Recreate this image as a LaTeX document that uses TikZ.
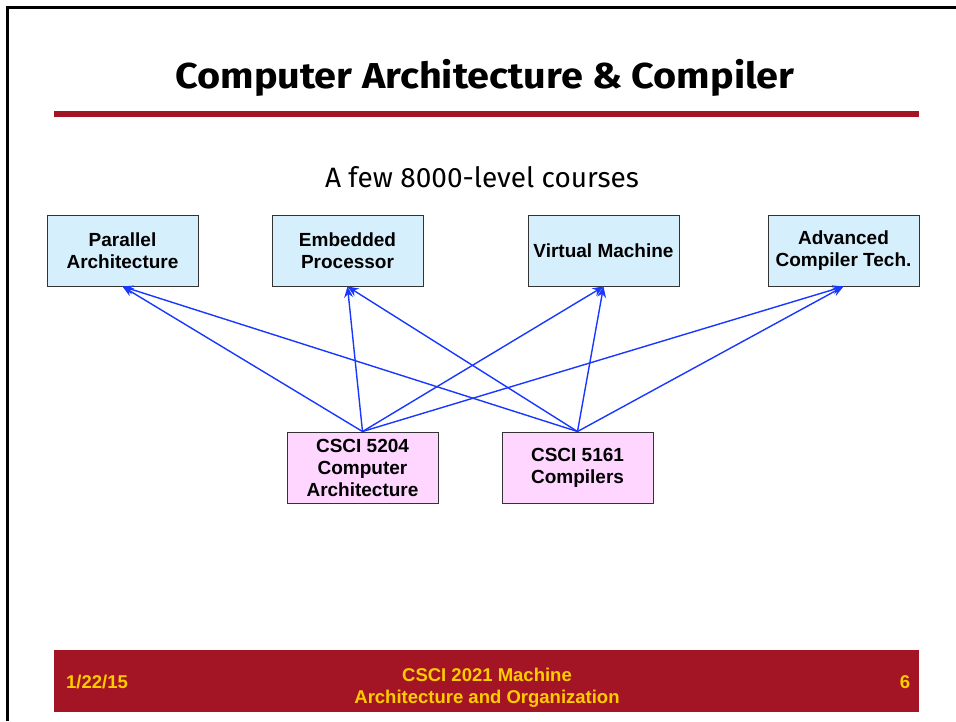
\documentclass[tikz,border=0pt]{standalone}
\usepackage{fontspec}
\setmainfont{Liberation Sans}
\newfontfamily\titlefont{Fira Sans}
\usetikzlibrary{arrows.meta}
\definecolor{boxblue}{RGB}{214,239,252}
\definecolor{boxpink}{RGB}{255,214,255}
\definecolor{slidered}{RGB}{163,21,36}
\definecolor{footgold}{RGB}{255,204,0}
\definecolor{arrowblue}{RGB}{25,55,255}
\tikzset{
  course/.style={draw=black!80, line width=1pt, minimum width=151pt, minimum height=71pt,
    align=center, inner sep=0pt, font=\bfseries\fontsize{19}{22}\selectfont},
  upper/.style={course, fill=boxblue},
  lower/.style={course, fill=boxpink},
  conn/.style={draw=arrowblue, line width=1.4pt, -{Stealth[length=11pt,width=9pt]}},
  foot/.style={text=footgold, font=\bfseries\fontsize{18.5}{22}\selectfont, align=center, inner sep=0pt}
}
\begin{document}
\begin{tikzpicture}[x=1pt,y=-1pt]
\useasboundingbox (0,0) rectangle (956,721);
% slide border
\draw[line width=2.2pt] (7.5,721) -- (7.5,7.5) -- (956,7.5);
% title
\node[font=\titlefont\bfseries\fontsize{36}{40}\selectfont, inner sep=0pt, xscale=1.1] (title) at (485,78) {Computer Architecture \& Compiler};
\fill[slidered] (54,111) rectangle (919,116.5);
\node[font=\titlefont\fontsize{28}{32}\selectfont, inner sep=0pt] (sub) at (482,177) {A few 8000-level courses};
% course boxes
\node[upper] (par) at (122.5,250.5) {Parallel\\Architecture};
\node[upper] (emb) at (347.5,250.5) {Embedded\\Processor};
\node[upper] (vm)  at (603.5,250.5) {Virtual Machine};
\node[upper] (adv) at (843.5,250.5) {Advanced\\Compiler Tech.};
\node[lower] (arch) at (362.5,467.5) {CSCI 5204\\Computer\\Architecture};
\node[lower] (comp) at (577.5,467.5) {CSCI 5161\\Compilers};
% connectors
\foreach \t in {par,emb,vm,adv} {
  \draw[conn] (arch.north) -- (\t.south);
  \draw[conn] (comp.north) -- (\t.south);
}
% footer
\fill[slidered] (54,650) rectangle (919,712);
\node[foot, anchor=west] (date) at (66,682) {1/22/15};
\node[foot] (course) at (487,688) {CSCI 2021 Machine\\Architecture and Organization};
\node[foot] (page) at (905,682) {6};
\end{tikzpicture}
\end{document}
